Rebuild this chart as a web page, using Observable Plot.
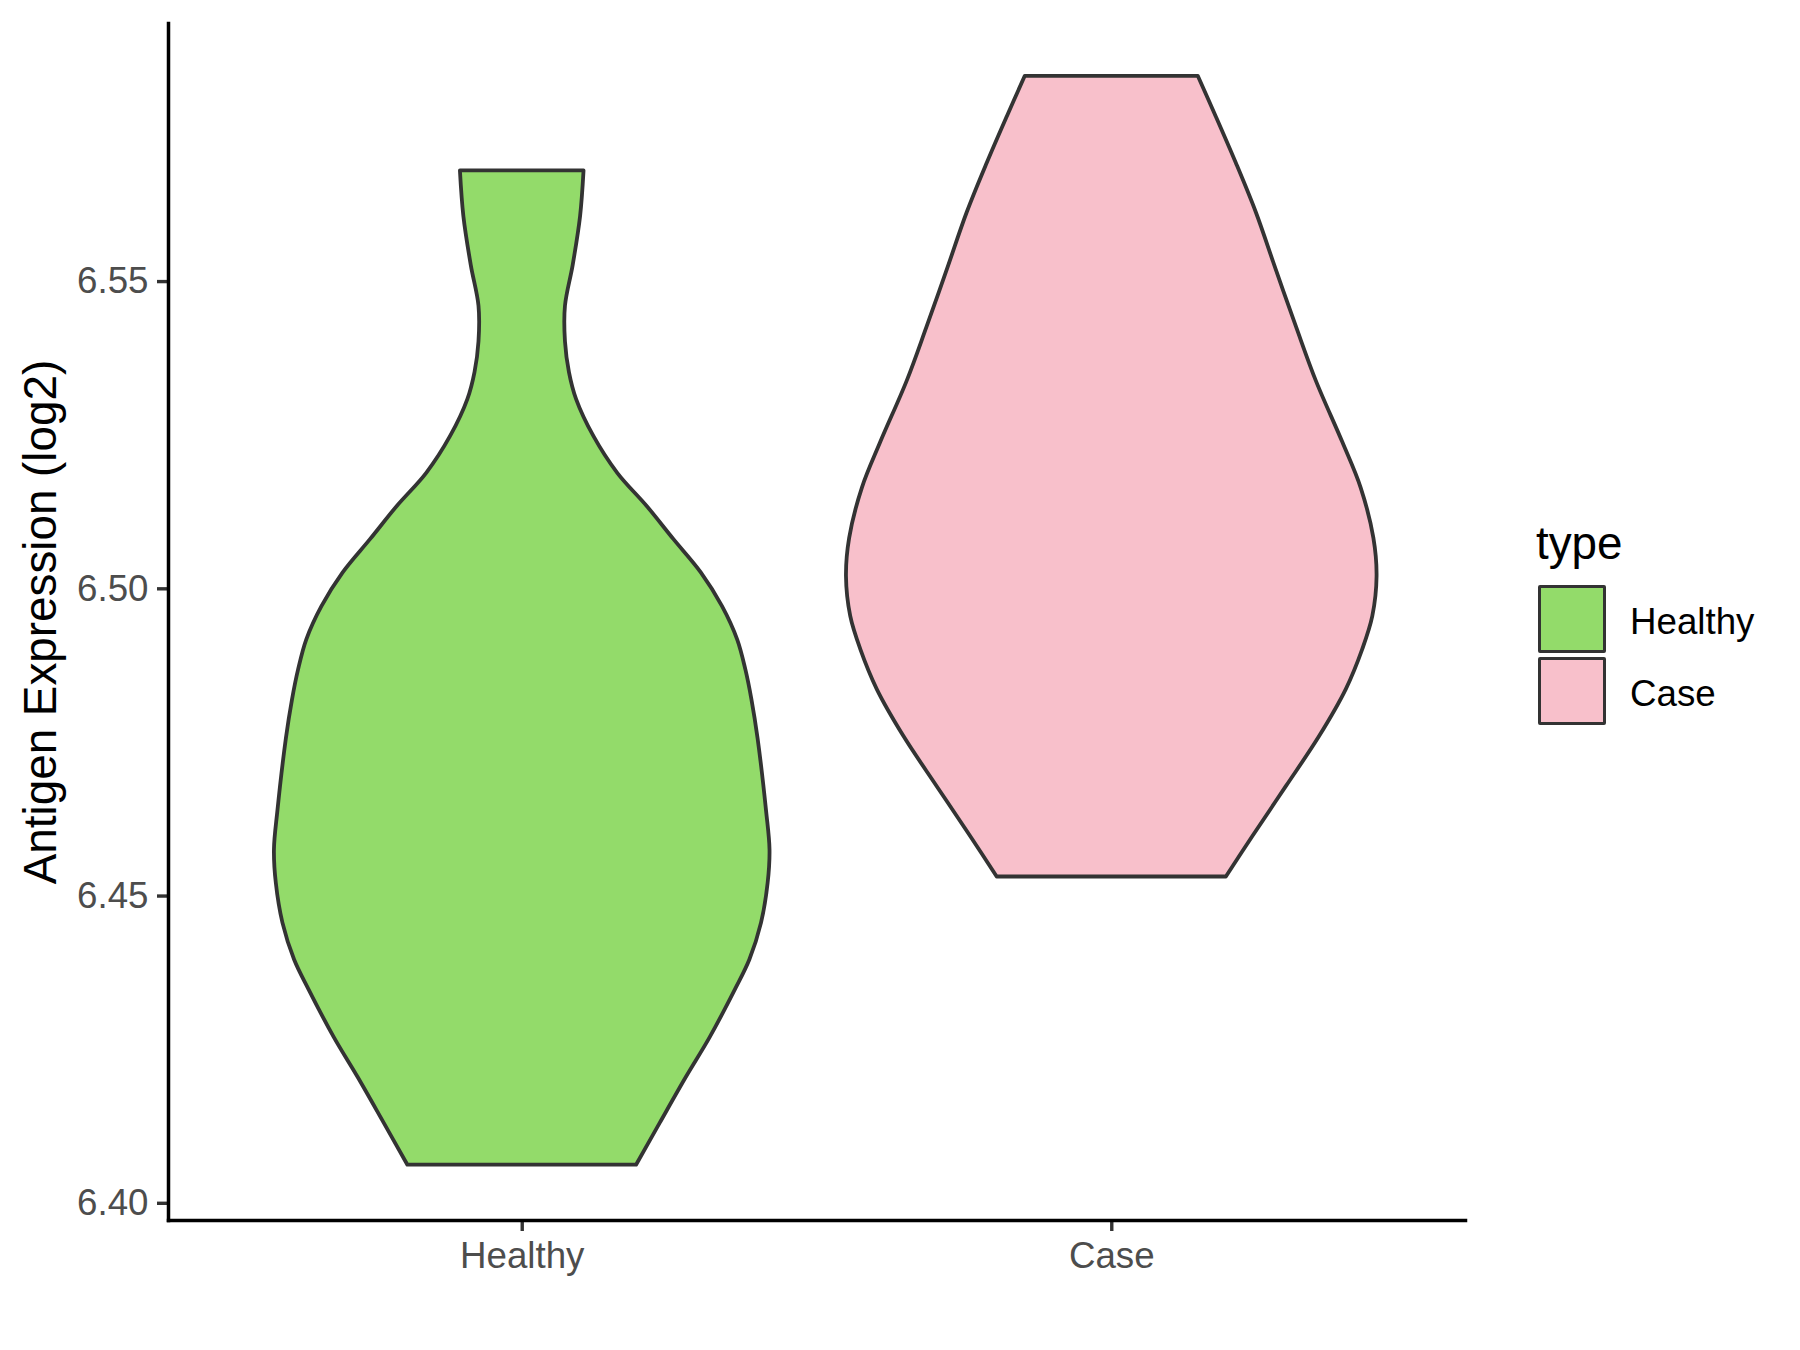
<!DOCTYPE html>
<html>
<head>
<meta charset="utf-8">
<script src="https://cdn.jsdelivr.net/npm/d3@7"></script>
<script src="https://cdn.jsdelivr.net/npm/@observablehq/plot@0.6"></script>
<style>
  html, body { margin: 0; padding: 0; background: #fff; }
  #wrap { position: relative; width: 1800px; height: 1350px; font-family: "Liberation Sans", Arial, sans-serif; }
  .lg { position: absolute; color: #000; white-space: nowrap; }
  .lg.title { font-size: 45.8px; line-height: 1; }
  .lg.key { width: 62px; height: 62px; border: 3.6px solid #333; border-radius: 2px; box-sizing: content-box; }
  .lg.lab { font-size: 36.7px; line-height: 1; }
</style>
</head>
<body>
<div id="wrap"></div>
<script>
// ---- data ----
const categories = ["Healthy", "Case"];
const colors = ["#93DB6A", "#F8C0CB"];
const yTicks = [6.40, 6.45, 6.50, 6.55];
const yTitle = "Antigen Expression (log2)";
const legendTitle = "type";

// violin outlines: expression value and relative density (1 = widest violin)
const healthyValues  = [6.4062, 6.4130, 6.4205, 6.4270, 6.4347, 6.4396, 6.4456, 6.4521, 6.4575, 6.4638, 6.4756, 6.4819, 6.4868, 6.4917, 6.4971, 6.5026, 6.5080, 6.5134, 6.5188, 6.5248, 6.5308, 6.5352, 6.5402, 6.5460, 6.5526, 6.5606, 6.5680];
const healthyDensity = [0.431, 0.520, 0.619, 0.709, 0.803, 0.858, 0.902, 0.927, 0.934, 0.921, 0.889, 0.866, 0.843, 0.812, 0.755, 0.675, 0.572, 0.471, 0.360, 0.270, 0.205, 0.178, 0.163, 0.163, 0.192, 0.220, 0.233];
const caseValues  = [6.4531, 6.4597, 6.4678, 6.4760, 6.4836, 6.4901, 6.4955, 6.5020, 6.5082, 6.5164, 6.5238, 6.5338, 6.5425, 6.5519, 6.5612, 6.5693, 6.5768, 6.5834];
const caseDensity = [0.432, 0.532, 0.658, 0.784, 0.884, 0.946, 0.984, 1.000, 0.988, 0.940, 0.871, 0.771, 0.697, 0.620, 0.545, 0.469, 0.394, 0.326];

const violinHalf = 0.45; // half of ggplot's 0.9 violin width

function build(cat, idx, values, dens) {
  return values.map((v, i) => ({type: cat, pos: idx + 1, value: v, d: dens[i]}));
}
const healthy = build(categories[0], 0, healthyValues, healthyDensity);
const kase = build(categories[1], 1, caseValues, caseDensity);

function violin(rows, fill) {
  return Plot.areaX(rows, {
    y: "value",
    x1: r => r.pos - r.d * violinHalf,
    x2: r => r.pos + r.d * violinHalf,
    fill: fill,
    stroke: "#333333",
    strokeWidth: 3.8,
    strokeLinejoin: "round",
    curve: "catmull-rom"
  });
}

const chart = Plot.plot({
  width: 1800,
  height: 1350,
  marginLeft: 168,
  marginRight: 335,
  marginTop: 23,
  marginBottom: 130,
  style: {fontFamily: "'Liberation Sans', Arial, sans-serif", background: "#fff", overflow: "visible"},
  x: {domain: [0.4, 2.6], label: null},
  y: {domain: [6.3972, 6.592], label: null},
  marks: [
    violin(healthy, colors[0]),
    violin(kase, colors[1]),
    Plot.axisY({ticks: yTicks, tickFormat: d3.format(".2f"), tickSize: 11, tickPadding: 9,
                stroke: "#333333", strokeWidth: 3.4, fill: "#4D4D4D", fontSize: 36.7, label: null}),
    Plot.axisX({ticks: [1, 2], tickFormat: i => categories[i - 1], tickSize: 11, tickPadding: 10,
                stroke: "#333333", strokeWidth: 3.4, fill: "#4D4D4D", fontSize: 36.7, label: null}),
    Plot.frame({anchor: "left", stroke: "#000", strokeWidth: 3.5}),
    Plot.frame({anchor: "bottom", stroke: "#000", strokeWidth: 3.5}),
    Plot.text([yTitle], {frameAnchor: "left", dx: -127, rotate: -90, textAnchor: "middle",
                         fontSize: 45.8, fill: "#000"})
  ]
});

const wrap = document.getElementById("wrap");
wrap.appendChild(chart);

// legend (ggplot-style, right of the panel)
function addEl(cls, css, text) {
  const el = document.createElement("div");
  el.className = "lg " + cls;
  Object.assign(el.style, css);
  if (text != null) el.textContent = text;
  wrap.appendChild(el);
  return el;
}
addEl("title", {left: "1536px", top: "521px"}, legendTitle);
categories.forEach((c, i) => {
  const top = 585 + i * 72;
  addEl("key", {left: "1538px", top: top + "px", background: colors[i]});
  addEl("lab", {left: "1630px", top: (top + 19) + "px"}, c);
});
</script>
</body>
</html>
